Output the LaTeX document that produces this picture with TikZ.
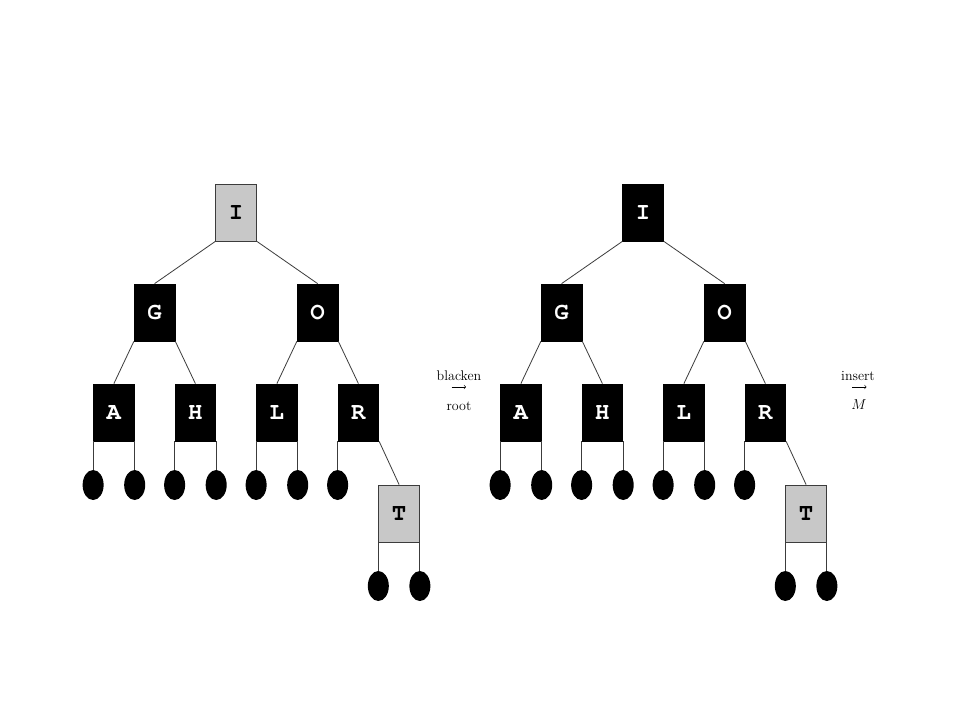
\documentclass[tikz,border=0pt]{standalone}
\usepackage[T1,TU]{fontenc}
\usepackage{fontspec}
\newcommand\boxfont{\fontencoding{T1}\fontfamily{pcr}\fontseries{b}\fontshape{n}\selectfont}
\usetikzlibrary{shapes.geometric}
\definecolor{keygray}{RGB}{200,200,200}
\definecolor{edgegray}{RGB}{60,60,60}
\tikzset{
  keybox/.style={rectangle, draw=black, line width=0.8pt, minimum width=40.75pt,
    minimum height=57pt, inner sep=0pt,
    font=\fontsize{24}{24}\boxfont},
  blk/.style={keybox, fill=black, text=white},
  redkey/.style={keybox, fill=keygray, draw=edgegray, text=black},
  leaf/.style={ellipse, fill=black, minimum width=21pt, minimum height=30pt, inner sep=0pt},
  edge/.style={draw=edgegray, line width=0.8pt},
  lbl/.style={inner sep=0pt, anchor=base, font=\fontsize{14}{15}\selectfont},
  steparrow/.style={-to, line width=0.6pt}
}
\newcommand\mytree[3]{%
\begin{scope}[xshift=#2]
  \node[#3] (#1I) at (236.1,212.5) {I};
  \node[blk] (#1G) at (154.6,312.5) {G};
  \node[blk] (#1O) at (317.6,312.5) {O};
  \node[blk] (#1A) at (113.9,412.5) {A};
  \node[blk] (#1H) at (195.4,412.5) {H};
  \node[blk] (#1L) at (276.9,412.5) {L};
  \node[blk] (#1R) at (358.4,412.5) {R};
  \node[redkey] (#1T) at (399.1,513.5) {T};
  \node[leaf] (#1a1) at (#1A.south west |- 0,485) {};
  \node[leaf] (#1a2) at (#1A.south east |- 0,485) {};
  \node[leaf] (#1a3) at (#1H.south west |- 0,485) {};
  \node[leaf] (#1a4) at (#1H.south east |- 0,485) {};
  \node[leaf] (#1a5) at (#1L.south west |- 0,485) {};
  \node[leaf] (#1a6) at (#1L.south east |- 0,485) {};
  \node[leaf] (#1a7) at (#1R.south west |- 0,485) {};
  \node[leaf] (#1t1) at (#1T.south west |- 0,586) {};
  \node[leaf] (#1t2) at (#1T.south east |- 0,586) {};
  \draw[edge] (#1I.south west) -- (#1G.north);
  \draw[edge] (#1I.south east) -- (#1O.north);
  \draw[edge] (#1G.south west) -- (#1A.north);
  \draw[edge] (#1G.south east) -- (#1H.north);
  \draw[edge] (#1O.south west) -- (#1L.north);
  \draw[edge] (#1O.south east) -- (#1R.north);
  \draw[edge] (#1R.south east) -- (#1T.north);
  \draw[edge] (#1A.south west) -- (#1a1.north);
  \draw[edge] (#1A.south east) -- (#1a2.north);
  \draw[edge] (#1H.south west) -- (#1a3.north);
  \draw[edge] (#1H.south east) -- (#1a4.north);
  \draw[edge] (#1L.south west) -- (#1a5.north);
  \draw[edge] (#1L.south east) -- (#1a6.north);
  \draw[edge] (#1R.south west) -- (#1a7.north);
  \draw[edge] (#1T.south west) -- (#1t1.north);
  \draw[edge] (#1T.south east) -- (#1t2.north);
\end{scope}}
\begin{document}
\begin{tikzpicture}[x=1pt,y=-1pt]
  \useasboundingbox[fill=white] (0,0) rectangle (960,720);
  \mytree{l}{0pt}{redkey}
  \mytree{r}{407pt}{blk}
  \node[lbl] (b1) at (459,380) {blacken};
  \node[lbl] (b3) at (459,410) {root};
  \coordinate (bs) at (451.5,387);
  \coordinate (be) at (466,387);
  \draw[steparrow] (bs) -- (be);
  \node[lbl] (i1) at (858,380) {insert};
  \node[lbl] (i3) at (859,409.5) {$M$};
  \coordinate (is) at (852,387);
  \coordinate (ie) at (866.5,387);
  \draw[steparrow] (is) -- (ie);
\end{tikzpicture}
\end{document}
